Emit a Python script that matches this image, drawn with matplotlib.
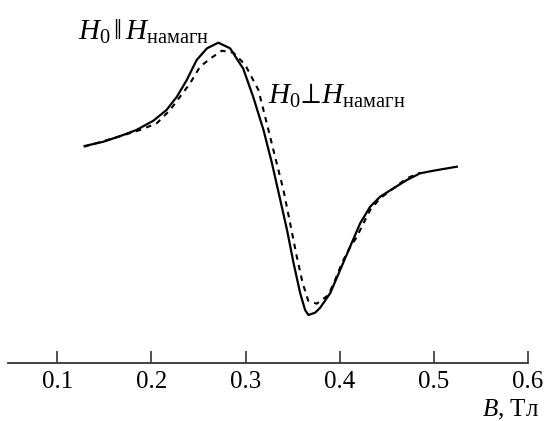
import matplotlib
matplotlib.use('Agg')
import matplotlib.pyplot as plt

plt.rcParams['font.family'] = ['Liberation Serif', 'DejaVu Serif']
plt.rcParams['mathtext.fontset'] = 'custom'
plt.rcParams['mathtext.rm'] = 'Liberation Serif'
plt.rcParams['mathtext.it'] = 'Liberation Serif:italic'

# field, T
b_par = [0.129, 0.149, 0.167, 0.184, 0.202, 0.216, 0.227, 0.2375, 0.248, 0.259,
         0.271, 0.2835, 0.2975, 0.308, 0.319, 0.328, 0.337, 0.344, 0.351, 0.358,
         0.3632, 0.3667, 0.3739, 0.3792, 0.3898, 0.4004, 0.411, 0.4217, 0.4323,
         0.4429, 0.4571, 0.4713, 0.4854, 0.4996, 0.5244]
# signal, arb. units (H0 || H_magn)
s_par = [2.167, 2.21, 2.267, 2.327, 2.42, 2.527, 2.66, 2.827, 3.027, 3.144,
         3.20, 3.144, 2.94, 2.66, 2.327, 1.994, 1.62, 1.327, 0.994, 0.694,
         0.527, 0.477, 0.50, 0.55, 0.694, 0.927, 1.16, 1.394, 1.56,
         1.66, 1.744, 1.827, 1.894, 1.92, 1.96]

# H0 _|_ H_magn
b_perp = [0.1284, 0.1595, 0.1879, 0.2056, 0.2198, 0.2304, 0.241, 0.2516, 0.2623,
          0.2747, 0.287, 0.2995, 0.3136, 0.3225, 0.3313, 0.3402, 0.3473, 0.3544,
          0.3605, 0.3665, 0.3756, 0.388, 0.3951, 0.4022, 0.4093, 0.4182, 0.4252,
          0.4323, 0.4429, 0.4571, 0.4713, 0.4854]
s_perp = [2.16, 2.244, 2.327, 2.394, 2.527, 2.66, 2.794, 2.96, 3.04,
          3.12, 3.10, 2.98, 2.727, 2.394, 2.06, 1.727, 1.394, 1.06,
          0.80, 0.62, 0.59, 0.677, 0.827, 0.994, 1.127, 1.26, 1.394,
          1.527, 1.644, 1.744, 1.844, 1.90]

xticks = [0.1, 0.2, 0.3, 0.4, 0.5, 0.6]

fig = plt.figure(figsize=(5.44, 4.21), dpi=100)
ax = fig.add_axes([8.3 / 544, 1 - 362.7 / 421, (528 - 8.3) / 544, 362.7 / 421])

ax.plot(b_par, s_par, color='black', lw=1.6, solid_joinstyle='round')
ax.plot(b_perp, s_perp, color='black', lw=1.5, dashes=(2.6, 2.6))

ax.set_xlim(0.0479, 0.6)
ax.set_ylim(0, 3.627)
ax.set_xticks(xticks)
ax.set_xticklabels([f'{t:.1f}' for t in xticks])
ax.set_yticks([])
for side in ('left', 'right', 'top'):
    ax.spines[side].set_visible(False)
ax.spines['bottom'].set_color('#333333')
ax.spines['bottom'].set_linewidth(1.3)
ax.tick_params(axis='x', direction='in', length=9, width=1.2, color='#333333',
               labelsize=18, pad=6)
ax.patch.set_visible(False)

ax.text(0.1223, 3.232, r'$H_0\,\|\,H_{\rm намагн}$', fontsize=21, va='baseline')
ax.text(0.3242, 2.594, r'$H_0\!\perp\!H_{\rm намагн}$', fontsize=21,
        va='baseline')

fig.text(538.7 / 544, 1 - 416.5 / 421, '$B$, Тл', fontsize=18,
         ha='right', va='baseline')

fig.savefig('out.png', dpi=100)
